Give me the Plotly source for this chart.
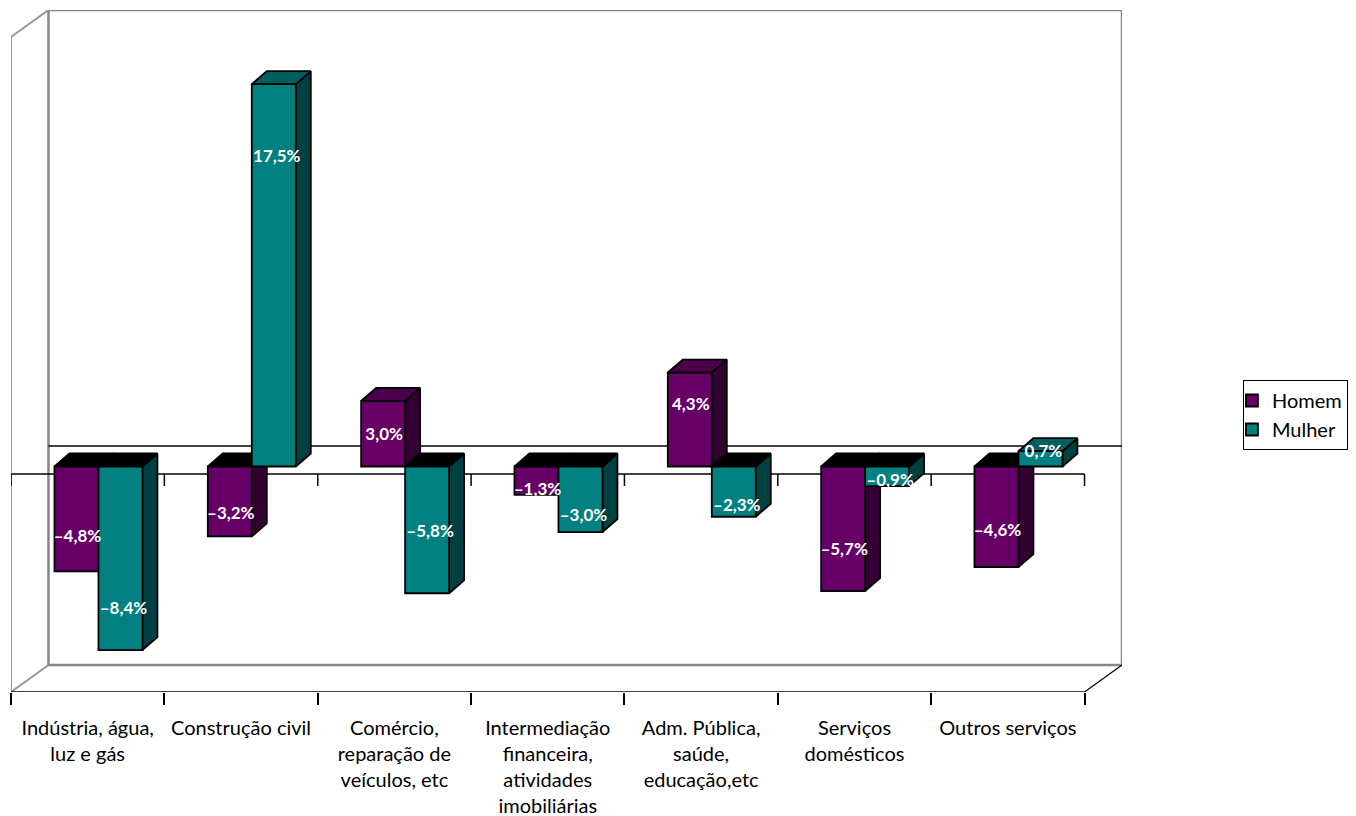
import plotly.graph_objects as go

categories = ["Indústria, água,<br>luz e gás", "Construção civil",
              "Comércio,<br>reparação de<br>veículos, etc",
              "Intermediação<br>financeira,<br>atividades<br>imobiliárias",
              "Adm. Pública,<br>saúde,<br>educação,etc",
              "Serviços<br>domésticos", "Outros serviços"]
homem = [-4.8, -3.2, 3.0, -1.3, 4.3, -5.7, -4.6]
mulher = [-8.4, 17.5, -5.8, -3.0, -2.3, -0.9, 0.7]
# where the data labels sit, in value units
homem_label_y = [-3.26, -2.21, 1.43, -1.11, 2.80, -3.86, -2.99]
mulher_label_y = [-6.56, 14.12, -3.03, -2.30, -1.84, -0.70, 0.63]

PAGE = 8              # the page's own margin round the figure
PX_X = 153.4          # pixels per category
PX_Y = 21.85          # pixels per percentage point
W = 44 / PX_X         # bar width
DX = 15 / PX_X        # bar depth
DY = 13 / PX_Y
PLOT_L, PLOT_R, PLOT_T, PLOT_B = 10.5, 1122, 10, 692
ZERO_X, ZERO_Y = 98, 466.5
EDGE = 1.8

xr = [(PLOT_L - ZERO_X) / PX_X, (PLOT_R - ZERO_X) / PX_X]
yr = [(ZERO_Y - PLOT_B) / PX_Y, (ZERO_Y - PLOT_T) / PX_Y]
WALL_DX = (48 - PLOT_L) / PX_X
WALL_DY = 27 / PX_Y
front_r = xr[1] - WALL_DX
front_t = yr[1] - WALL_DY
back_b = yr[0] + WALL_DY
front_zero = (ZERO_Y - 474) / PX_Y
back_zero = (ZERO_Y - 446) / PX_Y
ticks = [xr[0] + i * (front_r - xr[0]) / 7 for i in range(8)]
TICK = 12 / PX_Y

fig = go.Figure()


def line(xs, ys, color, width):
    fig.add_trace(go.Scatter(x=xs, y=ys, mode="lines", showlegend=False, hoverinfo="skip",
                             cliponaxis=False, zorder=0,
                             line=dict(color=color, width=width, simplify=False)))


# walls
line([xr[0] + WALL_DX, xr[1], xr[1], xr[0] + WALL_DX, xr[0] + WALL_DX],
     [back_b, back_b, yr[1], yr[1], back_b], "#868686", 2.5)
line([xr[0], xr[0], xr[0] + WALL_DX], [yr[0], front_t, yr[1]], "#989898", 2)
line([xr[0], xr[0] + WALL_DX], [yr[0], back_b], "#989898", 2)
line([front_r, xr[1]], [yr[0], back_b], "#000000", 1.2)
line([xr[0] + WALL_DX, xr[1]], [back_zero, back_zero], "#000000", 1.5)

# front axis lines; the floor's ticks are the x axis's own minor ticks
line([xr[0], front_r], [yr[0], yr[0]], "#000000", 1.5)
line([xr[0], front_r], [front_zero, front_zero], "#000000", 1.5)
tx, ty = [], []
for t in ticks:
    tx += [t, t, None]
    ty += [front_zero, front_zero - TICK, None]
line(tx, ty, "#000000", 1.5)


def faces(values, x_off, front, side, top, z, name):
    sx, sy, px, py, nx, ny = [], [], [], [], [], []
    for i, v in enumerate(values):
        x0, x1 = i + x_off, i + x_off + W
        sx += [x1, x1, x1 + DX, x1 + DX, x1, None]
        sy += [0, v, v + DY, DY, 0, None]
        t = max(v, 0)
        qx = [x0, x1, x1 + DX, x0 + DX, x0, None]
        qy = [t, t, t + DY, t + DY, t, None]
        if v > 0:
            px += qx
            py += qy
        else:
            nx += qx
            ny += qy
    for xs, ys, color in ((sx, sy, side), (px, py, top), (nx, ny, "#000000")):
        fig.add_trace(go.Scatter(x=xs, y=ys, mode="lines", fill="toself", fillcolor=color,
                                 line=dict(color="#000000", width=EDGE), showlegend=False,
                                 hoverinfo="skip", cliponaxis=False, zorder=z))
    fig.add_trace(go.Bar(x=list(range(7)), y=values, width=W, offset=x_off, name=name,
                         marker=dict(color=front, line=dict(color="#000000", width=EDGE)),
                         zorder=z + 1))


faces(homem, -W, "#660066", "#330033", "#4C004C", 1, "Homem")
faces(mulher, 0, "#008080", "#004040", "#006060", 3, "Mulher")


def fmt(v):
    return f"{v:.1f}".replace(".", ",").replace("-", "–") + "%"


label_x = [i - W / 2 + 1 / PX_X for i in range(7)] + [i + W / 2 + 3 / PX_X for i in range(7)]
fig.add_trace(go.Scatter(x=label_x, y=homem_label_y + mulher_label_y, mode="text",
                         text=[fmt(v) for v in homem + mulher], textposition="middle center",
                         textfont=dict(family="Lato", size=17, color="#ffffff", weight=700),
                         showlegend=False, hoverinfo="skip", cliponaxis=False, zorder=6))

fig.update_layout(
    width=1356 - PAGE, height=816 - PAGE, autosize=False,
    margin=dict(l=PLOT_L - PAGE, r=1356 - PLOT_R, t=PLOT_T - PAGE, b=816 - PLOT_B,
                autoexpand=False, pad=0),
    paper_bgcolor="#ffffff", plot_bgcolor="#ffffff",
    barmode="overlay", showlegend=True,
    font=dict(family="Lato", size=20, color="#000000"),
    legend=dict(x=(1243 - PLOT_L) / (PLOT_R - PLOT_L), y=(PLOT_B - 380) / (PLOT_B - PLOT_T),
                xanchor="left", yanchor="top", bgcolor="#ffffff", bordercolor="#000000",
                borderwidth=1, font=dict(size=20), itemwidth=30, indentation=-12,
                traceorder="normal"),
    xaxis=dict(range=xr, tickmode="array", tickvals=[(ticks[i] + ticks[i + 1]) / 2 for i in range(7)],
               ticktext=categories, showgrid=False, zeroline=False, showline=False, ticks="",
               ticklabelstandoff=22, tickangle=0, fixedrange=True,
               tickfont=dict(family="Lato", size=20, color="#000000"),
               minor=dict(tickmode="array", tickvals=ticks, ticks="outside", ticklen=12,
                          tickwidth=1.5, tickcolor="#000000", showgrid=False)),
    yaxis=dict(range=yr, showticklabels=False, showgrid=False, zeroline=False, showline=False,
               ticks="", fixedrange=True),
)
fig.write_html("out.html")
